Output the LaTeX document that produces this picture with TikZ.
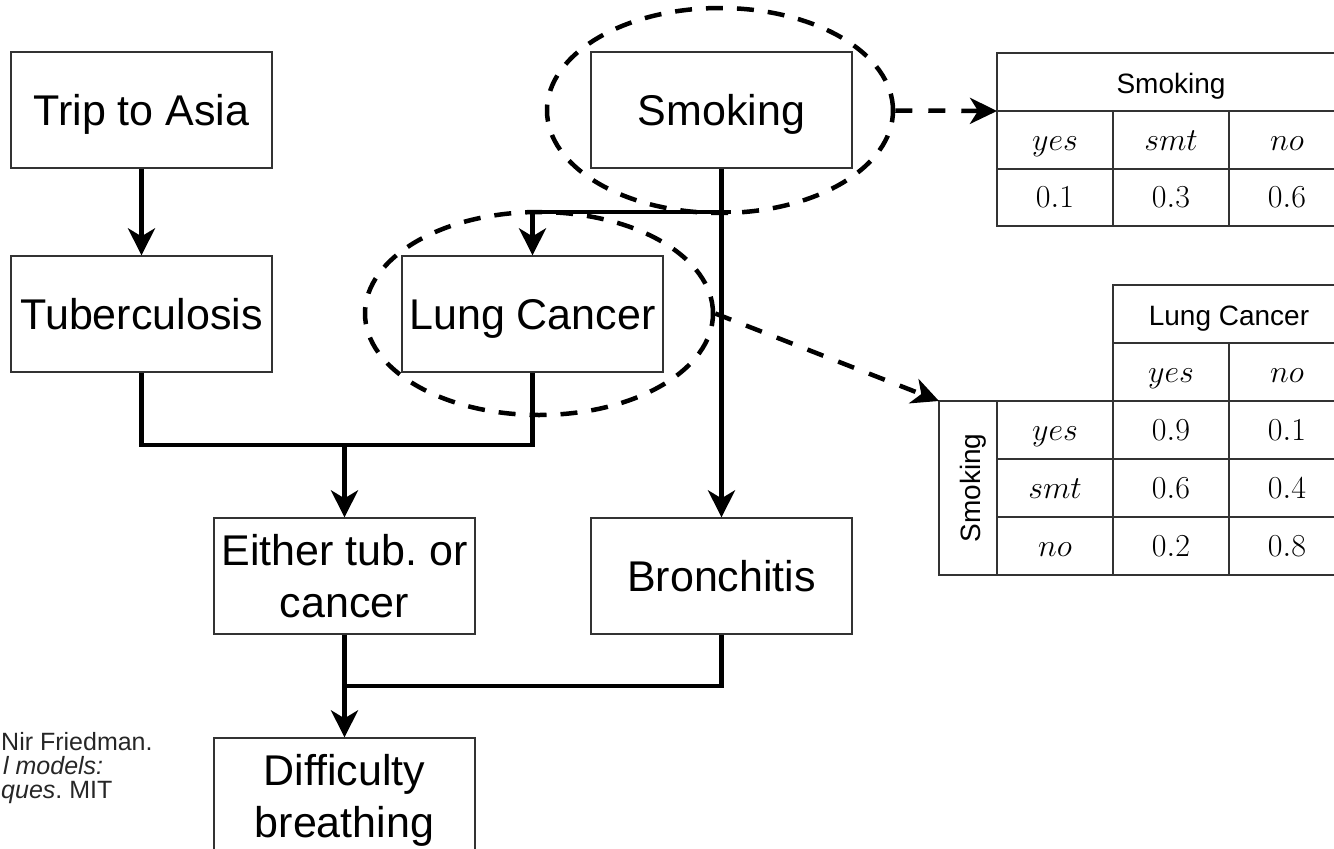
\RequirePackage{fix-cm}
\documentclass[tikz,border=0pt]{standalone}
\usepackage[no-math]{fontspec}
\setmainfont{Liberation Sans}
\usetikzlibrary{arrows.meta,shapes.geometric}
\frenchspacing

\tikzset{
  lbox/.style={draw=black!80, line width=1.3pt, minimum width=261pt, minimum height=116pt,
    inner sep=0pt, align=center, text depth=0pt, font=\fontsize{43}{52}\selectfont},
  wire/.style={line width=4.5pt, line join=miter},
  conn/.style={wire, -{Stealth[length=27pt,width=27pt,inset=8pt]}},
  ring/.style={ellipse, draw, line width=4.5pt, dash pattern=on 17pt off 14pt, inner sep=0pt},
  dconn/.style={line width=4.5pt, dash pattern=on 17pt off 16pt,
    -{Stealth[length=27pt,width=26pt,inset=8pt]}},
  tabline/.style={draw=black!80, line width=1.3pt},
  colhead/.style={anchor=base, inner sep=0pt, font=\fontsize{28}{34}\selectfont},
  mcell/.style={anchor=base, inner sep=0pt, font=\fontsize{32}{38}\selectfont},
  citeline/.style={anchor=base west, inner sep=0pt, font=\fontsize{25}{29}\selectfont, text=black!85},
}

\begin{document}
\begin{tikzpicture}[x=1pt,y=-1pt]
\path[use as bounding box] (0,0) rectangle (1334,849);
\clip (0,0) rectangle (1334,849);

% network variables
\node[lbox] (trip)    at (141.5,110) {Trip to Asia};
\node[lbox] (smoking) at (721.5,110) {Smoking};
\node[lbox] (tub)     at (141.5,314) {Tuberculosis};
\node[lbox] (lung)    at (532.5,314) {Lung Cancer};
\node[lbox] (either)  at (344.5,576) {Either tub. or\\cancer};
\node[lbox] (bronch)  at (721.5,576) {Bronchitis};
\node[lbox] (diff)    at (344.5,796) {Difficulty\\breathing};

% junction points of the orthogonal edges
\coordinate (sj) at (731,212);
\coordinate (tj) at (344.5,445);
\coordinate (bj) at (344.5,686);

% edges
\draw[conn] (trip) -- (tub);
\draw[conn] (smoking) -- (bronch);
\draw[conn] (sj) -| (lung.north);
\draw[wire] (tub.south) |- (tj) -| (lung.south);
\draw[conn] (tj) -- (either.north);
\draw[wire] (bronch.south) |- (bj);
\draw[conn] (either.south) -- (diff.north);

% highlighted variables
\node[ring, minimum width=346pt, minimum height=205pt] (sring) at (720,110.5) {};
\node[ring, minimum width=348pt, minimum height=203pt] (lring) at (539,313.5) {};

% table for Smoking
\coordinate (stab) at (997,111);
\draw[tabline] (997,53) rectangle (1345,226);
\draw[tabline] (997,111) -- (1345,111) (997,169) -- (1345,169)
  (1113,111) -- (1113,226) (1229,111) -- (1229,226);
\node[colhead] (sh) at (1171,93) {Smoking};
\node[mcell] (s1) at (1055,150) {$yes$};
\node[mcell] (s2) at (1171,150) {$smt$};
\node[mcell] (s3) at (1287,150) {$no$};
\node[mcell] (p1) at (1055,207) {$0.1$};
\node[mcell] (p2) at (1171,207) {$0.3$};
\node[mcell] (p3) at (1287,207) {$0.6$};

% table for Lung Cancer given Smoking
\coordinate (ltab) at (939,401);
\draw[tabline] (1113,285) rectangle (1345,401);
\draw[tabline] (1113,343) -- (1345,343) (1229,343) -- (1229,401);
\draw[tabline] (939,401) rectangle (1345,575);
\draw[tabline] (997,459) -- (1345,459) (997,517) -- (1345,517)
  (997,401) -- (997,575) (1113,401) -- (1113,575) (1229,401) -- (1229,575);
\node[colhead] (lh) at (1229,325) {Lung Cancer};
\node[colhead, rotate=90] (rh) at (980,488) {Smoking};
\node[mcell] (l1) at (1171,382) {$yes$};
\node[mcell] (l2) at (1287,382) {$no$};
\node[mcell] (r1) at (1055,440) {$yes$};
\node[mcell] (r2) at (1055,498) {$smt$};
\node[mcell] (r3) at (1055,556) {$no$};
\node[mcell] (q11) at (1171,440) {$0.9$};
\node[mcell] (q12) at (1287,440) {$0.1$};
\node[mcell] (q21) at (1171,498) {$0.6$};
\node[mcell] (q22) at (1287,498) {$0.4$};
\node[mcell] (q31) at (1171,556) {$0.2$};
\node[mcell] (q32) at (1287,556) {$0.8$};

% links from the highlighted variables to their tables
\draw[dconn] (sring.east) -- (stab);
\draw[dconn] (lring.east) -- (ltab);

% reference note
\node[citeline] (c1) at (1,750) {Nir Friedman.};
\node[citeline] (c2) at (3,774) {\textit{l models:}};
\node[citeline] (c3) at (1,798) {\textit{ques}. MIT};
\end{tikzpicture}
\end{document}
